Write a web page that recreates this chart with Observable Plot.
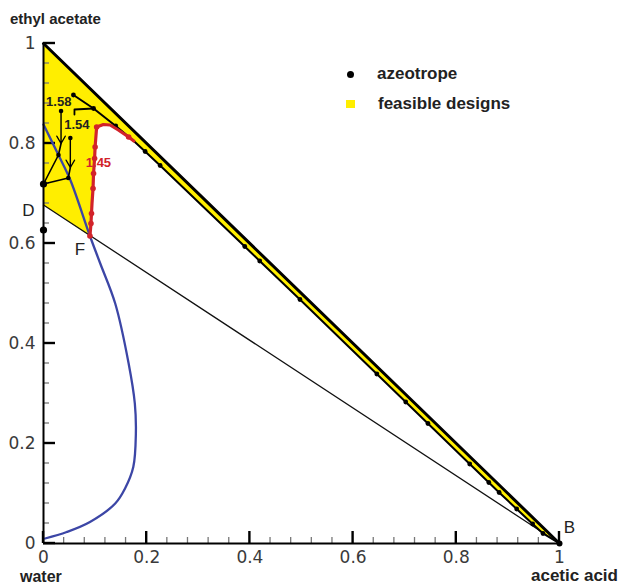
<!DOCTYPE html>
<html><head><meta charset="utf-8">
<script src="https://cdn.jsdelivr.net/npm/d3@7"></script>
<script src="https://cdn.jsdelivr.net/npm/@observablehq/plot@0.6"></script>
<style>
body{margin:0;background:#fff;}
#wrap{position:relative;width:621px;height:586px;font-family:"Liberation Sans",Arial,sans-serif;}
#wrap svg{position:absolute;left:0;top:0;}
.t{position:absolute;white-space:nowrap;color:#222;font-weight:bold;line-height:1;}
.sw{position:absolute;}
</style></head><body><div id="wrap"></div>
<script>
// ---- data ----
const xMajor = [0, 0.2, 0.4, 0.6, 0.8, 1];
const xTickLabels = ["0", "0.2", "0.4", "0.6", "0.8", "1"];
const yMajor = [0, 0.2, 0.4, 0.6, 0.8, 1];
const yTickLabels = ["0", "0.2", "0.4", "0.6", "0.8", "1"];
const minorTicks = [0.04, 0.08, 0.12, 0.16, 0.24, 0.28, 0.32, 0.36, 0.44, 0.48, 0.52, 0.56, 0.64, 0.68, 0.72, 0.76, 0.84, 0.88, 0.92, 0.96];

const hypX = [0, 1];
const hypY = [1, 0];

const azeoX = [0.058, 0.097, 0.140, 0.175, 0.197, 0.226, 0.390, 0.419, 0.497, 0.646, 0.702, 0.745, 0.826, 0.863, 0.883, 0.917, 0.948, 0.968, 1.000];
const azeoY = [0.897, 0.870, 0.835, 0.805, 0.784, 0.756, 0.594, 0.565, 0.488, 0.339, 0.283, 0.240, 0.159, 0.122, 0.102, 0.069, 0.039, 0.020, 0.000];
const azeoMarkIdx = [0, 1, 2, 4, 5, 6, 7, 8, 9, 10, 11, 12, 13, 14, 15, 16, 17];

const redX = [0.090, 0.092, 0.093, 0.094, 0.096, 0.097, 0.099, 0.100, 0.103, 0.116, 0.129, 0.145, 0.165, 0.175];
const redY = [0.615, 0.640, 0.660, 0.680, 0.710, 0.740, 0.770, 0.793, 0.833, 0.838, 0.837, 0.827, 0.813, 0.805];
const redMarkIdx = [0, 1, 2, 4, 5, 6, 7, 8, 12];

const blueX = [0.000, 0.029, 0.052, 0.090, 0.110, 0.139, 0.165, 0.177, 0.179, 0.174, 0.158, 0.139, 0.090, 0.045, 0.003];
const blueY = [0.838, 0.777, 0.727, 0.615, 0.560, 0.480, 0.360, 0.280, 0.220, 0.153, 0.110, 0.080, 0.043, 0.023, 0.010];

const pointD = [0, 0.677];
const pointF = [0.090, 0.615];
const pointB = [1, 0];

// tie lines / stage profiles
const arrowX1 = [0.034, 0.052];
const arrowY1 = [0.865, 0.811];
const arrowX2 = [0.034, 0.052];
const arrowY2 = [0.800, 0.752];
const tie158X = [0.034, 0.029, 0.000, 0.048];
const tie158Y = [0.800, 0.777, 0.719, 0.731];
const tie154X = [0.052, 0.048];
const tie154Y = [0.752, 0.731];
const tieTopX = [0.060, 0.060, 0.097];
const tieTopY = [0.858, 0.868, 0.870];

const blackDotX = [0.034, 0.052, 0.029, 0.048];
const blackDotY = [0.865, 0.811, 0.777, 0.731];
const axisDotX = [0.000, 0.000];
const axisDotY = [0.719, 0.627];

const stageLabels = ["1.58", "1.54"];
const stageLabelX = [0.0296, 0.0646];
const stageLabelY = [0.8826, 0.8366];
const redLabel = ["1.45"];
const redLabelX = [0.1065];
const redLabelY = [0.761];

// ---- build ----
const YELLOW = "#ffee00", RED = "#d2232a", BLUE = "#3c46a6";
const W = 621, H = 586, ML = 43, MR = 62, MT = 43, MB = 43;
const pts = (X, Y) => X.map((x, i) => ({x, y: Y[i]}));
const yellowX = [...hypX, ...azeoX.slice(3, -1).reverse(), ...redX.slice().reverse(), pointD[0]];
const yellowY = [...hypY, ...azeoY.slice(3, -1).reverse(), ...redY.slice().reverse(), pointD[1]];
const azeoPts = pts(azeoX, azeoY);
const redPts = pts(redX, redY);
const arrows = arrowX1.map((x1, i) => ({x1, y1: arrowY1[i], x2: arrowX2[i], y2: arrowY2[i]}));

const chart = Plot.plot({
  width: W, height: H,
  marginLeft: ML, marginRight: MR, marginTop: MT, marginBottom: MB,
  x: {domain: [0, 1], axis: null},
  y: {domain: [0, 1], axis: null},
  style: {fontFamily: "DejaVu Sans", fontSize: "17px", background: "transparent", overflow: "visible"},
  marks: [
    Plot.line(pts(yellowX, yellowY), {x: "x", y: "y", fill: YELLOW, stroke: "none"}),
    // tick labels
    Plot.axisX(xMajor, {anchor: "bottom", tickSize: 0, tickPadding: 7, tickFormat: (d, i) => xTickLabels[i], fill: "#3a3a3a", fontSize: 17}),
    Plot.axisY(yMajor, {anchor: "left", tickSize: 0, tickPadding: 8, tickFormat: (d, i) => yTickLabels[i], fill: "#3a3a3a", fontSize: 17}),
    Plot.line([{x: pointD[0], y: pointD[1]}, {x: pointB[0], y: pointB[1]}], {x: "x", y: "y", stroke: "#111", strokeWidth: 1.3}),
    Plot.line(pts(blueX, blueY), {x: "x", y: "y", stroke: BLUE, strokeWidth: 2.3, curve: "catmull-rom"}),
    Plot.line(pts(hypX, hypY), {x: "x", y: "y", stroke: "#000", strokeWidth: 3}),
    Plot.line(azeoPts, {x: "x", y: "y", stroke: "#000", strokeWidth: 2}),
    Plot.dot(azeoMarkIdx.map(i => azeoPts[i]), {x: "x", y: "y", r: 2.4, fill: "#000"}),
    Plot.line(redPts, {x: "x", y: "y", stroke: RED, strokeWidth: 3.2, strokeLinejoin: "round"}),
    Plot.dot(redMarkIdx.map(i => redPts[i]), {x: "x", y: "y", r: 2.8, fill: RED}),
    Plot.arrow(arrows, {x1: "x1", y1: "y1", x2: "x2", y2: "y2", stroke: "#000", strokeWidth: 1.4, headLength: 9}),
    Plot.line(pts(tie158X, tie158Y), {x: "x", y: "y", stroke: "#000", strokeWidth: 1.6}),
    Plot.line(pts(tie154X, tie154Y), {x: "x", y: "y", stroke: "#000", strokeWidth: 1.6}),
    Plot.line(pts(tieTopX, tieTopY), {x: "x", y: "y", stroke: "#000", strokeWidth: 1.8}),
    Plot.dot(pts(blackDotX, blackDotY), {x: "x", y: "y", r: 2.3, fill: "#000"}),
    Plot.ruleY([0], {stroke: "#000", strokeWidth: 2}),
    Plot.ruleX([0], {stroke: "#000", strokeWidth: 2}),
    Plot.dot(pts(axisDotX, axisDotY), {x: "x", y: "y", r: 3.6, fill: "#000"}),
    Plot.dot([{x: pointB[0], y: pointB[1]}], {x: "x", y: "y", r: 3, fill: "#000"}),
    Plot.text([{x: pointD[0], y: pointD[1]}], {x: "x", y: "y", text: () => "D", dx: -15, dy: 6, fontSize: 17, fontFamily: "Liberation Sans", fill: "#222"}),
    Plot.text([{x: pointF[0], y: pointF[1]}], {x: "x", y: "y", text: () => "F", dx: -10, dy: 14, fontSize: 17, fontFamily: "Liberation Sans", fill: "#222"}),
    Plot.text([{x: pointB[0], y: pointB[1]}], {x: "x", y: "y", text: () => "B", dx: 10, dy: -16, fontSize: 17, fontFamily: "Liberation Sans", fill: "#222"}),
    Plot.text(stageLabels, {x: (d, i) => stageLabelX[i], y: (d, i) => stageLabelY[i], text: d => d, fontSize: 13, fontWeight: "bold", fontFamily: "Liberation Sans", fill: "#222"}),
    Plot.text(redLabel, {x: (d, i) => redLabelX[i], y: (d, i) => redLabelY[i], text: d => d, fontSize: 13, fontWeight: "bold", fontFamily: "Liberation Sans", fill: RED})
  ]
});

// inward-pointing axis ticks, positioned with the plot's own scales
const svg = chart.tagName.toLowerCase() === "svg" ? chart : chart.querySelector("svg");
const xs = chart.scale("x"), ys = chart.scale("y");
const X0 = xs.apply(0), Y0 = ys.apply(0);
const tg = d3.create("svg:g").attr("aria-label", "inward ticks").attr("stroke-linecap", "butt");
const addTicks = (vals, len, color, sw) => {
  tg.append("g").attr("stroke", color).attr("stroke-width", sw)
    .selectAll("line").data(vals).join("line")
    .attr("x1", d => xs.apply(d)).attr("x2", d => xs.apply(d)).attr("y1", Y0).attr("y2", Y0 - len);
  tg.append("g").attr("stroke", color).attr("stroke-width", sw)
    .selectAll("line").data(vals).join("line")
    .attr("y1", d => ys.apply(d)).attr("y2", d => ys.apply(d)).attr("x1", X0).attr("x2", X0 + len);
};
addTicks(minorTicks, 6, "#777", 1.3);
addTicks(xMajor, 12, "#000", 2.4);
const feasibleG = svg.querySelector("g[aria-label='line']");
if (feasibleG && feasibleG.nextSibling) svg.insertBefore(tg.node(), feasibleG.nextSibling);
else svg.appendChild(tg.node());

const wrap = document.getElementById("wrap");
wrap.appendChild(chart);

function addText(txt, left, top, size) {
  const s = document.createElement("span");
  s.className = "t"; s.textContent = txt;
  s.style.left = left + "px"; s.style.top = top + "px"; s.style.fontSize = size + "px";
  wrap.appendChild(s);
}
addText("ethyl acetate", 10, 11, 15);
addText("water", 20, 569, 16);
addText("acetic acid", 531, 567, 17);
addText("azeotrope", 377, 65, 17);
addText("feasible designs", 378, 95, 17);

const dot = document.createElement("div");
dot.className = "sw";
Object.assign(dot.style, {left: "347px", top: "71px", width: "7px", height: "7px", borderRadius: "50%", background: "#000"});
wrap.appendChild(dot);
const sq = document.createElement("div");
sq.className = "sw";
Object.assign(sq.style, {left: "346px", top: "100px", width: "9px", height: "8px", background: YELLOW});
wrap.appendChild(sq);
</script></body></html>
